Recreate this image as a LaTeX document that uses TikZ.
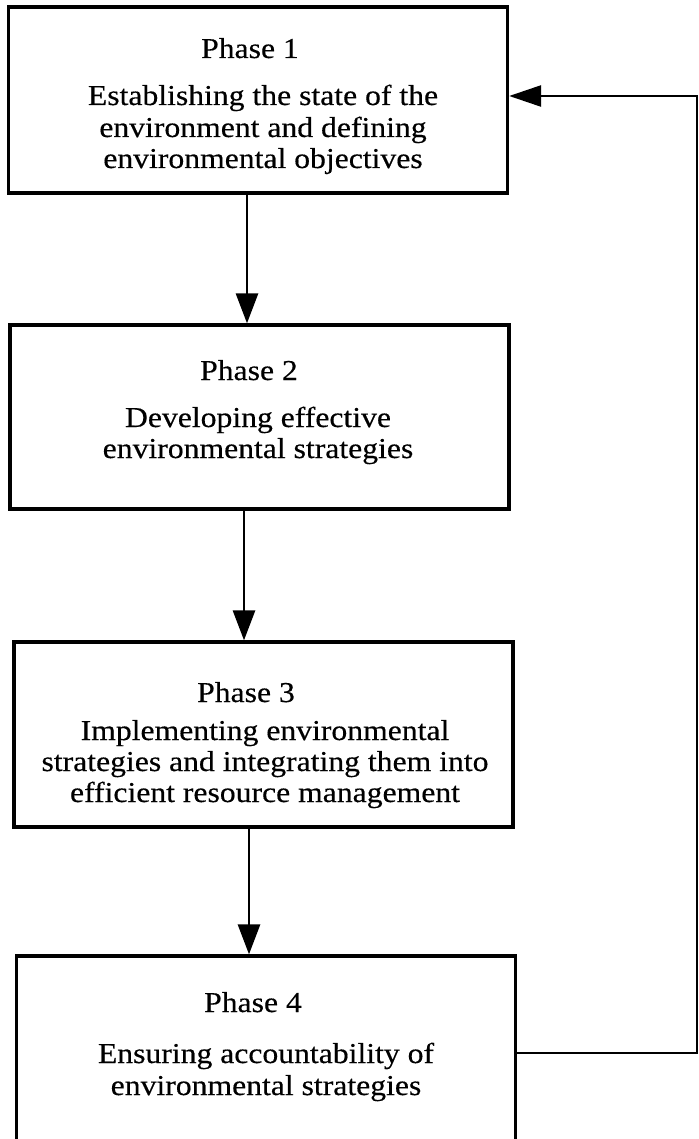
\documentclass[tikz,border=0pt]{standalone}
\usepackage{fontspec}
\setmainfont{Liberation Serif}
\newfontfamily\phasefont[FakeStretch=1.1,FakeBold=0.4]{Liberation Serif}
\usetikzlibrary{arrows.meta}
\begin{document}
\begin{tikzpicture}[x=1pt,y=-1pt,
  box/.style={draw, line width=3.3pt, inner sep=0pt, minimum width=499pt},
  txt/.style={anchor=base, inner sep=0pt, font=\phasefont\fontsize{28.8}{32}\selectfont},
  flow/.style={line width=2.9pt, -{Triangle[length=30pt,width=22pt]}},
  fb/.style={line width=2.6pt, -{Triangle[length=32pt,width=21pt]}},
]
\useasboundingbox (0,0) rectangle (698,1139);
\clip (0,0) rectangle (698,1139);
% boxes
\node[box, minimum height=186pt] (b1) at (258,100) {};
\node[box, minimum height=184pt] (b2) at (259.5,417) {};
\node[box, minimum height=185pt] (b3) at (263.5,734.5) {};
\node[box, minimum height=194pt] (b4) at (266,1053) {};
% texts
\node[txt] (p1) at (250,58) {Phase 1};
\node[txt] (l11) at (263,105) {Establishing the state of the};
\node[txt] (l12) at (263,137) {environment and defining};
\node[txt] (l13) at (263,168) {environmental objectives};
\node[txt] (p2) at (249,380) {Phase 2};
\node[txt] (l21) at (258,427) {Developing effective};
\node[txt] (l22) at (258,458) {environmental strategies};
\node[txt] (p3) at (246,702) {Phase 3};
\node[txt] (l31) at (265,740) {Implementing environmental};
\node[txt] (l32) at (265,771) {strategies and integrating them into};
\node[txt] (l33) at (265,802) {efficient resource management};
\node[txt] (p4) at (253,1012) {Phase 4};
\node[txt] (l41) at (266,1063) {Ensuring accountability of};
\node[txt] (l42) at (266,1095) {environmental strategies};
% arrows
\coordinate (a1) at ([xshift=-11pt]b1.south);
\coordinate (a2) at ([xshift=-15.5pt]b2.south);
\coordinate (a3) at ([xshift=-14.5pt]b3.south);
\draw[flow] (a1) -- (a1 |- b2.north);
\draw[flow] (a2) -- (a2 |- b3.north);
\draw[flow] (a3) -- (a3 |- b4.north);
% feedback
\coordinate (c1) at (697,1053);
\draw[fb] (b4.east) -- (c1) |- ([yshift=4pt]b1.east);
\end{tikzpicture}
\end{document}
